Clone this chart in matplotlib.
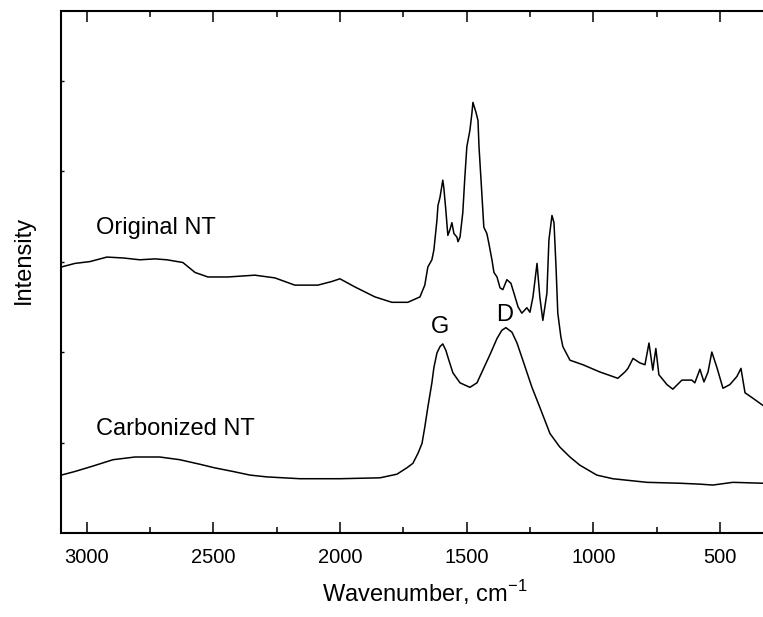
import matplotlib
matplotlib.use("Agg")
import matplotlib.pyplot as plt
from matplotlib.ticker import MultipleLocator, NullFormatter

plt.rcParams['font.family'] = ['Liberation Sans', 'DejaVu Sans']
plt.rcParams['mathtext.fontset'] = 'custom'
plt.rcParams['mathtext.rm'] = 'Liberation Sans'

# Raman spectra: wavenumber (cm^-1) and intensity (offset, arbitrary units)
original_wn = [3100, 3046, 2987, 2920, 2855, 2790, 2730, 2683, 2620, 2572, 2521, 2442,
               2336, 2257, 2178, 2087, 2032, 2000, 1941, 1862, 1795, 1732, 1684,
               1665, 1653, 1637, 1629, 1617, 1613, 1605, 1594,
               1590, 1582, 1574, 1566, 1558, 1550, 1538, 1534, 1526, 1515, 1507, 1499,
               1487, 1479, 1475, 1463, 1455, 1451, 1440, 1432, 1420, 1412, 1400, 1392,
               1380, 1368, 1357, 1341, 1325, 1313, 1297, 1282, 1262, 1250, 1238, 1222,
               1211, 1199, 1183, 1175, 1163, 1155, 1147, 1140, 1128, 1120, 1092, 1041,
               974, 903, 875, 863, 843, 816, 796, 780, 765, 753, 741, 709, 686, 650,
               611, 599, 579, 563, 547, 532, 512, 488, 461, 433, 417, 401, 370, 330]
original_int = [2.94, 2.98, 3.00, 3.05, 3.04, 3.02, 3.03, 3.02, 2.99, 2.88, 2.83, 2.83,
                2.85, 2.82, 2.74, 2.74, 2.78, 2.81, 2.72, 2.61, 2.55, 2.55, 2.61,
                2.74, 2.94, 3.02, 3.13, 3.46, 3.62, 3.71, 3.90,
                3.82, 3.57, 3.29, 3.35, 3.43, 3.31, 3.27, 3.22, 3.27, 3.54, 3.93, 4.27,
                4.45, 4.64, 4.76, 4.65, 4.56, 4.27, 3.76, 3.38, 3.31, 3.20, 3.02, 2.88,
                2.83, 2.71, 2.69, 2.80, 2.76, 2.65, 2.50, 2.43, 2.49, 2.44, 2.61, 2.98,
                2.61, 2.35, 2.65, 3.24, 3.51, 3.43, 2.94, 2.43, 2.17, 2.06, 1.91, 1.86,
                1.78, 1.71, 1.78, 1.82, 1.93, 1.88, 1.86, 2.10, 1.80, 2.04, 1.75, 1.64,
                1.59, 1.69, 1.69, 1.66, 1.81, 1.67, 1.78, 2.00, 1.83, 1.60, 1.64, 1.73,
                1.82, 1.55, 1.49, 1.41]

carbonized_wn = [3100, 3046, 2975, 2896, 2809, 2711, 2632, 2553, 2494, 2422, 2355, 2288,
                 2158, 2000, 1842, 1775, 1736, 1712, 1692, 1676, 1665, 1653, 1637, 1629,
                 1617, 1605, 1594, 1582, 1570, 1554, 1526, 1487, 1459, 1436, 1408, 1380,
                 1361, 1345, 1321, 1301, 1278, 1242, 1211, 1171, 1132, 1092, 1053, 986,
                 923, 788, 658, 579, 528, 449, 330]
carbonized_int = [0.64, 0.68, 0.74, 0.81, 0.84, 0.84, 0.81, 0.76, 0.72, 0.68, 0.64, 0.62,
                  0.60, 0.60, 0.61, 0.65, 0.72, 0.77, 0.88, 0.99, 1.17, 1.39, 1.66, 1.83,
                  1.99, 2.06, 2.09, 2.02, 1.91, 1.77, 1.66, 1.61, 1.66, 1.80, 1.97, 2.15,
                  2.24, 2.27, 2.22, 2.10, 1.91, 1.61, 1.39, 1.10, 0.95, 0.84, 0.75, 0.64,
                  0.60, 0.56, 0.55, 0.54, 0.53, 0.56, 0.55]

x_ticks = [3000, 2500, 2000, 1500, 1000, 500]
y_ticks = [1, 2, 3, 4, 5]

fig = plt.figure(figsize=(7.63, 6.17), dpi=100)
ax = fig.add_axes([61 / 763, 1 - 533 / 617, 1 - 61 / 763, (533 - 11) / 617])

ax.plot(original_wn, original_int, color='black', lw=1.1)
ax.plot(carbonized_wn, carbonized_int, color='black', lw=1.1)

ax.set_xlim(3101, 330)
ax.set_ylim(0, 5.77)

ax.set_xticks(x_ticks)
ax.xaxis.set_minor_locator(MultipleLocator(250))
ax.set_yticks(y_ticks)
ax.yaxis.set_major_formatter(NullFormatter())

ax.tick_params(axis='x', which='major', direction='in', length=8, width=1.1,
               top=True, labelsize=14.5, pad=11)
ax.tick_params(axis='x', which='minor', direction='in', length=4.5, width=1.1, top=True)
ax.tick_params(axis='y', which='major', direction='in', length=2, width=1.0,
               left=True, right=False)

for side in ('left', 'bottom', 'top'):
    ax.spines[side].set_linewidth(1.5)
ax.spines['right'].set_visible(False)

ax.set_xlabel('Wavenumber, cm$^{-1}$', fontsize=17)
ax.xaxis.set_label_coords(0.518, -0.086)
ax.set_ylabel('Intensity', fontsize=17)
ax.yaxis.set_label_coords(-0.037, 0.524)

ax.text(2963, 3.31, 'Original NT', fontsize=17, ha='left', va='baseline')
ax.text(2963, 1.08, 'Carbonized NT', fontsize=17, ha='left', va='baseline')
ax.text(1605, 2.21, 'G', fontsize=17, ha='center', va='baseline')
ax.text(1349, 2.34, 'D', fontsize=17, ha='center', va='baseline')

fig.savefig('out.png', dpi=100)
